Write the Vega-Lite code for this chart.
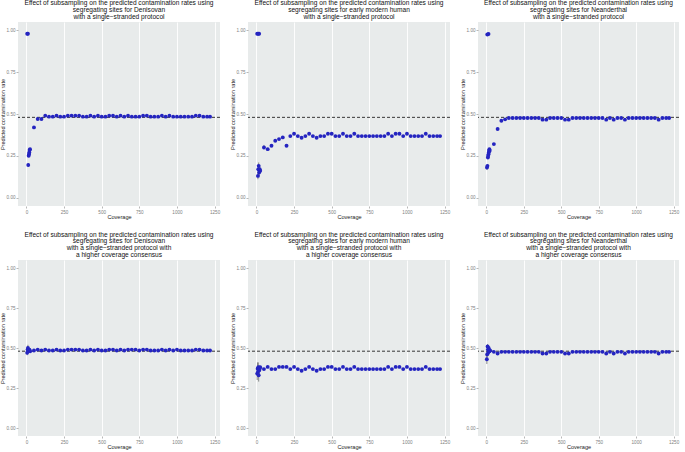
{
  "$schema": "https://vega.github.io/schema/vega-lite/v6.json",
  "padding": {"left": 0, "top": 0, "right": 1, "bottom": 1},
  "background": "white",
  "datasets": {
    "d": [
      {"p":1,"x":5,"y":0.98},{"p":1,"x":10,"y":0.98},{"p":1,"x":12,"y":0.195,"lo":0.185,"hi":0.205},{"p":1,"x":15,"y":0.25},{"p":1,"x":17,"y":0.26},{"p":1,"x":19,"y":0.27},{"p":1,"x":21,"y":0.285},{"p":1,"x":24,"y":0.29},{"p":1,"x":50,"y":0.42},{"p":1,"x":75,"y":0.47},{"p":1,"x":100,"y":0.47},
      {"p":1,"x":125,"y":0.49},{"p":1,"x":150,"y":0.484},{"p":1,"x":175,"y":0.484},{"p":1,"x":200,"y":0.49},{"p":1,"x":225,"y":0.484},{"p":1,"x":250,"y":0.484},{"p":1,"x":275,"y":0.49},{"p":1,"x":300,"y":0.49},{"p":1,"x":325,"y":0.49},{"p":1,"x":350,"y":0.49},{"p":1,"x":375,"y":0.484},{"p":1,"x":400,"y":0.484},{"p":1,"x":425,"y":0.49},{"p":1,"x":450,"y":0.484},{"p":1,"x":475,"y":0.49},{"p":1,"x":500,"y":0.484},{"p":1,"x":525,"y":0.484},{"p":1,"x":550,"y":0.49},{"p":1,"x":575,"y":0.49},{"p":1,"x":600,"y":0.484},{"p":1,"x":625,"y":0.49},{"p":1,"x":650,"y":0.484},{"p":1,"x":675,"y":0.49},{"p":1,"x":700,"y":0.484},{"p":1,"x":725,"y":0.484},{"p":1,"x":750,"y":0.484},{"p":1,"x":775,"y":0.49},{"p":1,"x":800,"y":0.49},{"p":1,"x":825,"y":0.484},{"p":1,"x":850,"y":0.484},{"p":1,"x":875,"y":0.484},{"p":1,"x":900,"y":0.49},{"p":1,"x":925,"y":0.484},{"p":1,"x":950,"y":0.49},{"p":1,"x":975,"y":0.484},{"p":1,"x":1000,"y":0.484},{"p":1,"x":1025,"y":0.484},{"p":1,"x":1050,"y":0.484},{"p":1,"x":1075,"y":0.484},{"p":1,"x":1100,"y":0.484},{"p":1,"x":1125,"y":0.49},{"p":1,"x":1150,"y":0.49},{"p":1,"x":1175,"y":0.484},{"p":1,"x":1200,"y":0.484},{"p":1,"x":1220,"y":0.484},

      {"p":2,"x":5,"y":0.98},{"p":2,"x":12,"y":0.98},{"p":2,"x":18,"y":0.98},{"p":2,"x":10,"y":0.13,"lo":0.11,"hi":0.15},{"p":2,"x":12,"y":0.17,"lo":0.15,"hi":0.19},{"p":2,"x":15,"y":0.19,"lo":0.17,"hi":0.21},{"p":2,"x":18,"y":0.15,"lo":0.13,"hi":0.17},{"p":2,"x":22,"y":0.17,"lo":0.15,"hi":0.19},{"p":2,"x":25,"y":0.16},{"p":2,"x":50,"y":0.30,"lo":0.29,"hi":0.315},{"p":2,"x":75,"y":0.29},{"p":2,"x":100,"y":0.31},
      {"p":2,"x":125,"y":0.34},{"p":2,"x":150,"y":0.35},{"p":2,"x":175,"y":0.36},{"p":2,"x":200,"y":0.31},{"p":2,"x":225,"y":0.368},{"p":2,"x":250,"y":0.382},{"p":2,"x":275,"y":0.368},{"p":2,"x":300,"y":0.358},{"p":2,"x":325,"y":0.368},{"p":2,"x":350,"y":0.382},{"p":2,"x":375,"y":0.368},{"p":2,"x":400,"y":0.358},{"p":2,"x":425,"y":0.368},{"p":2,"x":450,"y":0.368},{"p":2,"x":475,"y":0.382},{"p":2,"x":500,"y":0.382},{"p":2,"x":525,"y":0.368},{"p":2,"x":550,"y":0.368},{"p":2,"x":575,"y":0.382},{"p":2,"x":600,"y":0.368},{"p":2,"x":625,"y":0.368},{"p":2,"x":650,"y":0.382},{"p":2,"x":675,"y":0.368},{"p":2,"x":700,"y":0.368},{"p":2,"x":725,"y":0.368},{"p":2,"x":750,"y":0.368},{"p":2,"x":775,"y":0.368},{"p":2,"x":800,"y":0.368},{"p":2,"x":825,"y":0.368},{"p":2,"x":850,"y":0.368},{"p":2,"x":875,"y":0.382},{"p":2,"x":900,"y":0.368},{"p":2,"x":925,"y":0.382},{"p":2,"x":950,"y":0.382},{"p":2,"x":975,"y":0.368},{"p":2,"x":1000,"y":0.382},{"p":2,"x":1025,"y":0.368},{"p":2,"x":1050,"y":0.368},{"p":2,"x":1075,"y":0.368},{"p":2,"x":1100,"y":0.368},{"p":2,"x":1125,"y":0.382},{"p":2,"x":1150,"y":0.368},{"p":2,"x":1175,"y":0.368},{"p":2,"x":1200,"y":0.368},{"p":2,"x":1220,"y":0.368},

      {"p":3,"x":6,"y":0.975},{"p":3,"x":14,"y":0.978},{"p":3,"x":4,"y":0.18,"lo":0.165,"hi":0.195},{"p":3,"x":7,"y":0.19,"lo":0.18,"hi":0.2},{"p":3,"x":10,"y":0.24},{"p":3,"x":12,"y":0.25},{"p":3,"x":14,"y":0.26},{"p":3,"x":16,"y":0.27},{"p":3,"x":18,"y":0.28},{"p":3,"x":20,"y":0.29},{"p":3,"x":22,"y":0.28},{"p":3,"x":50,"y":0.32},{"p":3,"x":75,"y":0.41},{"p":3,"x":100,"y":0.46},{"p":3,"x":125,"y":0.468},
      {"p":3,"x":150,"y":0.476},{"p":3,"x":175,"y":0.476},{"p":3,"x":200,"y":0.476},{"p":3,"x":225,"y":0.476},{"p":3,"x":250,"y":0.476},{"p":3,"x":275,"y":0.476},{"p":3,"x":300,"y":0.476},{"p":3,"x":325,"y":0.476},{"p":3,"x":350,"y":0.476},{"p":3,"x":375,"y":0.466},{"p":3,"x":400,"y":0.466},{"p":3,"x":425,"y":0.476},{"p":3,"x":450,"y":0.476},{"p":3,"x":475,"y":0.476},{"p":3,"x":500,"y":0.476},{"p":3,"x":525,"y":0.466},{"p":3,"x":550,"y":0.466},{"p":3,"x":575,"y":0.476},{"p":3,"x":600,"y":0.476},{"p":3,"x":625,"y":0.476},{"p":3,"x":650,"y":0.476},{"p":3,"x":675,"y":0.476},{"p":3,"x":700,"y":0.476},{"p":3,"x":725,"y":0.476},{"p":3,"x":750,"y":0.476},{"p":3,"x":775,"y":0.476},{"p":3,"x":800,"y":0.466},{"p":3,"x":825,"y":0.476},{"p":3,"x":850,"y":0.466},{"p":3,"x":875,"y":0.476},{"p":3,"x":900,"y":0.476},{"p":3,"x":925,"y":0.466},{"p":3,"x":950,"y":0.476},{"p":3,"x":975,"y":0.476},{"p":3,"x":1000,"y":0.476},{"p":3,"x":1025,"y":0.476},{"p":3,"x":1050,"y":0.476},{"p":3,"x":1075,"y":0.476},{"p":3,"x":1100,"y":0.476},{"p":3,"x":1125,"y":0.476},{"p":3,"x":1150,"y":0.466},{"p":3,"x":1175,"y":0.476},{"p":3,"x":1200,"y":0.476},{"p":3,"x":1220,"y":0.476},

      {"p":4,"x":5,"y":0.47,"lo":0.455,"hi":0.49},{"p":4,"x":8,"y":0.49,"lo":0.47,"hi":0.51},{"p":4,"x":10,"y":0.5,"lo":0.485,"hi":0.52},{"p":4,"x":13,"y":0.49},{"p":4,"x":16,"y":0.485},{"p":4,"x":20,"y":0.49},{"p":4,"x":25,"y":0.48},{"p":4,"x":50,"y":0.484},{"p":4,"x":75,"y":0.49},{"p":4,"x":100,"y":0.484},
      {"p":4,"x":125,"y":0.49},{"p":4,"x":150,"y":0.484},{"p":4,"x":175,"y":0.484},{"p":4,"x":200,"y":0.49},{"p":4,"x":225,"y":0.484},{"p":4,"x":250,"y":0.484},{"p":4,"x":275,"y":0.49},{"p":4,"x":300,"y":0.49},{"p":4,"x":325,"y":0.49},{"p":4,"x":350,"y":0.49},{"p":4,"x":375,"y":0.484},{"p":4,"x":400,"y":0.484},{"p":4,"x":425,"y":0.49},{"p":4,"x":450,"y":0.484},{"p":4,"x":475,"y":0.49},{"p":4,"x":500,"y":0.484},{"p":4,"x":525,"y":0.484},{"p":4,"x":550,"y":0.49},{"p":4,"x":575,"y":0.49},{"p":4,"x":600,"y":0.484},{"p":4,"x":625,"y":0.49},{"p":4,"x":650,"y":0.484},{"p":4,"x":675,"y":0.49},{"p":4,"x":700,"y":0.49},{"p":4,"x":725,"y":0.49},{"p":4,"x":750,"y":0.484},{"p":4,"x":775,"y":0.49},{"p":4,"x":800,"y":0.49},{"p":4,"x":825,"y":0.484},{"p":4,"x":850,"y":0.484},{"p":4,"x":875,"y":0.484},{"p":4,"x":900,"y":0.49},{"p":4,"x":925,"y":0.484},{"p":4,"x":950,"y":0.49},{"p":4,"x":975,"y":0.484},{"p":4,"x":1000,"y":0.49},{"p":4,"x":1025,"y":0.484},{"p":4,"x":1050,"y":0.484},{"p":4,"x":1075,"y":0.484},{"p":4,"x":1100,"y":0.484},{"p":4,"x":1125,"y":0.49},{"p":4,"x":1150,"y":0.49},{"p":4,"x":1175,"y":0.484},{"p":4,"x":1200,"y":0.484},{"p":4,"x":1220,"y":0.484},

      {"p":5,"x":5,"y":0.34,"lo":0.3,"hi":0.38},{"p":5,"x":8,"y":0.37,"lo":0.33,"hi":0.41},{"p":5,"x":10,"y":0.35,"lo":0.32,"hi":0.38},{"p":5,"x":12,"y":0.38,"lo":0.35,"hi":0.41},{"p":5,"x":15,"y":0.33,"lo":0.29,"hi":0.36},{"p":5,"x":18,"y":0.36,"lo":0.33,"hi":0.39},{"p":5,"x":22,"y":0.37,"lo":0.35,"hi":0.39},{"p":5,"x":25,"y":0.38},{"p":5,"x":50,"y":0.368},{"p":5,"x":75,"y":0.382},{"p":5,"x":100,"y":0.368},
      {"p":5,"x":125,"y":0.368},{"p":5,"x":150,"y":0.382},{"p":5,"x":175,"y":0.382},{"p":5,"x":200,"y":0.382},{"p":5,"x":225,"y":0.368},{"p":5,"x":250,"y":0.382},{"p":5,"x":275,"y":0.368},{"p":5,"x":300,"y":0.358},{"p":5,"x":325,"y":0.368},{"p":5,"x":350,"y":0.382},{"p":5,"x":375,"y":0.368},{"p":5,"x":400,"y":0.358},{"p":5,"x":425,"y":0.368},{"p":5,"x":450,"y":0.368},{"p":5,"x":475,"y":0.382},{"p":5,"x":500,"y":0.382},{"p":5,"x":525,"y":0.368},{"p":5,"x":550,"y":0.368},{"p":5,"x":575,"y":0.382},{"p":5,"x":600,"y":0.368},{"p":5,"x":625,"y":0.368},{"p":5,"x":650,"y":0.382},{"p":5,"x":675,"y":0.368},{"p":5,"x":700,"y":0.368},{"p":5,"x":725,"y":0.368},{"p":5,"x":750,"y":0.368},{"p":5,"x":775,"y":0.368},{"p":5,"x":800,"y":0.368},{"p":5,"x":825,"y":0.368},{"p":5,"x":850,"y":0.368},{"p":5,"x":875,"y":0.382},{"p":5,"x":900,"y":0.368},{"p":5,"x":925,"y":0.382},{"p":5,"x":950,"y":0.382},{"p":5,"x":975,"y":0.368},{"p":5,"x":1000,"y":0.382},{"p":5,"x":1025,"y":0.368},{"p":5,"x":1050,"y":0.368},{"p":5,"x":1075,"y":0.368},{"p":5,"x":1100,"y":0.368},{"p":5,"x":1125,"y":0.382},{"p":5,"x":1150,"y":0.368},{"p":5,"x":1175,"y":0.368},{"p":5,"x":1200,"y":0.368},{"p":5,"x":1220,"y":0.368},

      {"p":6,"x":3,"y":0.43,"lo":0.40,"hi":0.45},{"p":6,"x":5,"y":0.46,"lo":0.44,"hi":0.48},{"p":6,"x":8,"y":0.51,"lo":0.5,"hi":0.525},{"p":6,"x":10,"y":0.49},{"p":6,"x":12,"y":0.47},{"p":6,"x":15,"y":0.5},{"p":6,"x":18,"y":0.49},{"p":6,"x":21,"y":0.48},{"p":6,"x":25,"y":0.485},{"p":6,"x":50,"y":0.476},{"p":6,"x":75,"y":0.466},{"p":6,"x":100,"y":0.476},{"p":6,"x":125,"y":0.476},
      {"p":6,"x":150,"y":0.476},{"p":6,"x":175,"y":0.476},{"p":6,"x":200,"y":0.476},{"p":6,"x":225,"y":0.476},{"p":6,"x":250,"y":0.476},{"p":6,"x":275,"y":0.476},{"p":6,"x":300,"y":0.476},{"p":6,"x":325,"y":0.476},{"p":6,"x":350,"y":0.476},{"p":6,"x":375,"y":0.466},{"p":6,"x":400,"y":0.466},{"p":6,"x":425,"y":0.476},{"p":6,"x":450,"y":0.476},{"p":6,"x":475,"y":0.476},{"p":6,"x":500,"y":0.476},{"p":6,"x":525,"y":0.466},{"p":6,"x":550,"y":0.466},{"p":6,"x":575,"y":0.476},{"p":6,"x":600,"y":0.476},{"p":6,"x":625,"y":0.476},{"p":6,"x":650,"y":0.476},{"p":6,"x":675,"y":0.476},{"p":6,"x":700,"y":0.476},{"p":6,"x":725,"y":0.476},{"p":6,"x":750,"y":0.476},{"p":6,"x":775,"y":0.476},{"p":6,"x":800,"y":0.466},{"p":6,"x":825,"y":0.476},{"p":6,"x":850,"y":0.466},{"p":6,"x":875,"y":0.476},{"p":6,"x":900,"y":0.476},{"p":6,"x":925,"y":0.466},{"p":6,"x":950,"y":0.476},{"p":6,"x":975,"y":0.476},{"p":6,"x":1000,"y":0.476},{"p":6,"x":1025,"y":0.476},{"p":6,"x":1050,"y":0.476},{"p":6,"x":1075,"y":0.476},{"p":6,"x":1100,"y":0.476},{"p":6,"x":1125,"y":0.476},{"p":6,"x":1150,"y":0.466},{"p":6,"x":1175,"y":0.476},{"p":6,"x":1200,"y":0.476},{"p":6,"x":1220,"y":0.476}
    ]
  },
  "vconcat": [
    {
      "hconcat": [
        {
          "width": 202, "height": 184,
          "title": {"text": ["Effect of subsampling on the predicted contamination rates using", "segregating sites for Denisovan", "with a  single\u2212stranded  protocol"]},
          "layer": [
            {"data": {"values": [{}]}, "mark": {"type": "rule", "strokeDash": [3, 2], "color": "#222", "strokeWidth": 0.9}, "encoding": {"y": {"datum": 0.48, "type": "quantitative"}}},
            {"data": {"name": "d"}, "transform": [{"filter": "datum.p === 1 && isValid(datum.lo)"}], "mark": {"type": "rule", "color": "#444", "strokeWidth": 0.6}, "encoding": {"x": {"field": "x", "type": "quantitative"}, "y": {"field": "lo", "type": "quantitative", "title": "Predicted contamination rate"}, "y2": {"field": "hi"}}},
            {"data": {"name": "d"}, "transform": [{"filter": "datum.p === 1"}], "mark": {"type": "point", "filled": true, "size": 15, "color": "#2424c0", "opacity": 1},
             "encoding": {
               "x": {"field": "x", "type": "quantitative", "scale": {"domain": [-56, 1286], "nice": false, "zero": false},
                     "axis": {"title": "Coverage", "format": "d", "labelOverlap": false, "values": [0, 125, 250, 375, 500, 625, 750, 875, 1000, 1125, 1250], "labelExpr": "datum.value % 250 === 0 ? datum.label : ''", "gridWidth": {"condition": {"test": "datum.value % 250 !== 0", "value": 0.45}, "value": 0.9}, "tickOpacity": {"condition": {"test": "datum.value % 250 !== 0", "value": 0}, "value": 1}}},
               "y": {"field": "y", "type": "quantitative", "scale": {"domain": [-0.05, 1.05], "nice": false, "zero": false},
                     "axis": {"title": "Predicted contamination rate", "labelOverlap": false, "values": [0, 0.125, 0.25, 0.375, 0.5, 0.625, 0.75, 0.875, 1], "format": ".2f", "labelExpr": "abs(datum.value*4 - round(datum.value*4)) < 0.001 ? datum.label : ''", "gridWidth": {"condition": {"test": "abs(datum.value*4 - round(datum.value*4)) > 0.001", "value": 0.45}, "value": 0.9}, "tickOpacity": {"condition": {"test": "abs(datum.value*4 - round(datum.value*4)) > 0.001", "value": 0}, "value": 1}}}
             }}
          ]
        },
        {
          "width": 202, "height": 184,
          "title": {"text": ["Effect of subsampling on the predicted contamination rates using", "segregating sites for early modern human", "with a  single\u2212stranded  protocol"]},
          "layer": [
            {"data": {"values": [{}]}, "mark": {"type": "rule", "strokeDash": [3, 2], "color": "#222", "strokeWidth": 0.9}, "encoding": {"y": {"datum": 0.48, "type": "quantitative"}}},
            {"data": {"name": "d"}, "transform": [{"filter": "datum.p === 2 && isValid(datum.lo)"}], "mark": {"type": "rule", "color": "#444", "strokeWidth": 0.6}, "encoding": {"x": {"field": "x", "type": "quantitative"}, "y": {"field": "lo", "type": "quantitative", "title": "Predicted contamination rate"}, "y2": {"field": "hi"}}},
            {"data": {"name": "d"}, "transform": [{"filter": "datum.p === 2"}], "mark": {"type": "point", "filled": true, "size": 15, "color": "#2424c0", "opacity": 1},
             "encoding": {
               "x": {"field": "x", "type": "quantitative", "scale": {"domain": [-56, 1286], "nice": false, "zero": false},
                     "axis": {"title": "Coverage", "format": "d", "labelOverlap": false, "values": [0, 125, 250, 375, 500, 625, 750, 875, 1000, 1125, 1250], "labelExpr": "datum.value % 250 === 0 ? datum.label : ''", "gridWidth": {"condition": {"test": "datum.value % 250 !== 0", "value": 0.45}, "value": 0.9}, "tickOpacity": {"condition": {"test": "datum.value % 250 !== 0", "value": 0}, "value": 1}}},
               "y": {"field": "y", "type": "quantitative", "scale": {"domain": [-0.05, 1.05], "nice": false, "zero": false},
                     "axis": {"title": "Predicted contamination rate", "labelOverlap": false, "values": [0, 0.125, 0.25, 0.375, 0.5, 0.625, 0.75, 0.875, 1], "format": ".2f", "labelExpr": "abs(datum.value*4 - round(datum.value*4)) < 0.001 ? datum.label : ''", "gridWidth": {"condition": {"test": "abs(datum.value*4 - round(datum.value*4)) > 0.001", "value": 0.45}, "value": 0.9}, "tickOpacity": {"condition": {"test": "abs(datum.value*4 - round(datum.value*4)) > 0.001", "value": 0}, "value": 1}}}
             }}
          ]
        },
        {
          "width": 201, "height": 184,
          "title": {"text": ["Effect of subsampling on the predicted contamination rates using", "segregating sites for Neanderthal", "with a  single\u2212stranded  protocol"]},
          "layer": [
            {"data": {"values": [{}]}, "mark": {"type": "rule", "strokeDash": [3, 2], "color": "#222", "strokeWidth": 0.9}, "encoding": {"y": {"datum": 0.48, "type": "quantitative"}}},
            {"data": {"name": "d"}, "transform": [{"filter": "datum.p === 3 && isValid(datum.lo)"}], "mark": {"type": "rule", "color": "#444", "strokeWidth": 0.6}, "encoding": {"x": {"field": "x", "type": "quantitative"}, "y": {"field": "lo", "type": "quantitative", "title": "Predicted contamination rate"}, "y2": {"field": "hi"}}},
            {"data": {"name": "d"}, "transform": [{"filter": "datum.p === 3"}], "mark": {"type": "point", "filled": true, "size": 15, "color": "#2424c0", "opacity": 1},
             "encoding": {
               "x": {"field": "x", "type": "quantitative", "scale": {"domain": [-56, 1286], "nice": false, "zero": false},
                     "axis": {"title": "Coverage", "format": "d", "labelOverlap": false, "values": [0, 125, 250, 375, 500, 625, 750, 875, 1000, 1125, 1250], "labelExpr": "datum.value % 250 === 0 ? datum.label : ''", "gridWidth": {"condition": {"test": "datum.value % 250 !== 0", "value": 0.45}, "value": 0.9}, "tickOpacity": {"condition": {"test": "datum.value % 250 !== 0", "value": 0}, "value": 1}}},
               "y": {"field": "y", "type": "quantitative", "scale": {"domain": [-0.05, 1.05], "nice": false, "zero": false},
                     "axis": {"title": "Predicted contamination rate", "labelOverlap": false, "values": [0, 0.125, 0.25, 0.375, 0.5, 0.625, 0.75, 0.875, 1], "format": ".2f", "labelExpr": "abs(datum.value*4 - round(datum.value*4)) < 0.001 ? datum.label : ''", "gridWidth": {"condition": {"test": "abs(datum.value*4 - round(datum.value*4)) > 0.001", "value": 0.45}, "value": 0.9}, "tickOpacity": {"condition": {"test": "abs(datum.value*4 - round(datum.value*4)) > 0.001", "value": 0}, "value": 1}}}
             }}
          ]
        }
      ],
      "spacing": 9
    },
    {
      "hconcat": [
        {
          "width": 202, "height": 176,
          "title": {"text": ["Effect of subsampling on the predicted contamination rates using", "segregating sites for  Denisovan", "with a  single\u2212stranded  protocol with", "a higher coverage consensus"]},
          "layer": [
            {"data": {"values": [{}]}, "mark": {"type": "rule", "strokeDash": [3, 2], "color": "#222", "strokeWidth": 0.9}, "encoding": {"y": {"datum": 0.48, "type": "quantitative"}}},
            {"data": {"name": "d"}, "transform": [{"filter": "datum.p === 4 && isValid(datum.lo)"}], "mark": {"type": "rule", "color": "#444", "strokeWidth": 0.6}, "encoding": {"x": {"field": "x", "type": "quantitative"}, "y": {"field": "lo", "type": "quantitative", "title": "Predicted contamination rate"}, "y2": {"field": "hi"}}},
            {"data": {"name": "d"}, "transform": [{"filter": "datum.p === 4"}], "mark": {"type": "point", "filled": true, "size": 15, "color": "#2424c0", "opacity": 1},
             "encoding": {
               "x": {"field": "x", "type": "quantitative", "scale": {"domain": [-56, 1286], "nice": false, "zero": false},
                     "axis": {"title": "Coverage", "format": "d", "labelOverlap": false, "values": [0, 125, 250, 375, 500, 625, 750, 875, 1000, 1125, 1250], "labelExpr": "datum.value % 250 === 0 ? datum.label : ''", "gridWidth": {"condition": {"test": "datum.value % 250 !== 0", "value": 0.45}, "value": 0.9}, "tickOpacity": {"condition": {"test": "datum.value % 250 !== 0", "value": 0}, "value": 1}}},
               "y": {"field": "y", "type": "quantitative", "scale": {"domain": [-0.05, 1.05], "nice": false, "zero": false},
                     "axis": {"title": "Predicted contamination rate", "labelOverlap": false, "values": [0, 0.125, 0.25, 0.375, 0.5, 0.625, 0.75, 0.875, 1], "format": ".2f", "labelExpr": "abs(datum.value*4 - round(datum.value*4)) < 0.001 ? datum.label : ''", "gridWidth": {"condition": {"test": "abs(datum.value*4 - round(datum.value*4)) > 0.001", "value": 0.45}, "value": 0.9}, "tickOpacity": {"condition": {"test": "abs(datum.value*4 - round(datum.value*4)) > 0.001", "value": 0}, "value": 1}}}
             }}
          ]
        },
        {
          "width": 202, "height": 176,
          "title": {"text": ["Effect of subsampling on the predicted contamination rates using", "segregating sites for  early modern human", "with a  single\u2212stranded  protocol with", "a higher coverage consensus"]},
          "layer": [
            {"data": {"values": [{}]}, "mark": {"type": "rule", "strokeDash": [3, 2], "color": "#222", "strokeWidth": 0.9}, "encoding": {"y": {"datum": 0.48, "type": "quantitative"}}},
            {"data": {"name": "d"}, "transform": [{"filter": "datum.p === 5 && isValid(datum.lo)"}], "mark": {"type": "rule", "color": "#444", "strokeWidth": 0.6}, "encoding": {"x": {"field": "x", "type": "quantitative"}, "y": {"field": "lo", "type": "quantitative", "title": "Predicted contamination rate"}, "y2": {"field": "hi"}}},
            {"data": {"name": "d"}, "transform": [{"filter": "datum.p === 5"}], "mark": {"type": "point", "filled": true, "size": 15, "color": "#2424c0", "opacity": 1},
             "encoding": {
               "x": {"field": "x", "type": "quantitative", "scale": {"domain": [-56, 1286], "nice": false, "zero": false},
                     "axis": {"title": "Coverage", "format": "d", "labelOverlap": false, "values": [0, 125, 250, 375, 500, 625, 750, 875, 1000, 1125, 1250], "labelExpr": "datum.value % 250 === 0 ? datum.label : ''", "gridWidth": {"condition": {"test": "datum.value % 250 !== 0", "value": 0.45}, "value": 0.9}, "tickOpacity": {"condition": {"test": "datum.value % 250 !== 0", "value": 0}, "value": 1}}},
               "y": {"field": "y", "type": "quantitative", "scale": {"domain": [-0.05, 1.05], "nice": false, "zero": false},
                     "axis": {"title": "Predicted contamination rate", "labelOverlap": false, "values": [0, 0.125, 0.25, 0.375, 0.5, 0.625, 0.75, 0.875, 1], "format": ".2f", "labelExpr": "abs(datum.value*4 - round(datum.value*4)) < 0.001 ? datum.label : ''", "gridWidth": {"condition": {"test": "abs(datum.value*4 - round(datum.value*4)) > 0.001", "value": 0.45}, "value": 0.9}, "tickOpacity": {"condition": {"test": "abs(datum.value*4 - round(datum.value*4)) > 0.001", "value": 0}, "value": 1}}}
             }}
          ]
        },
        {
          "width": 201, "height": 176,
          "title": {"text": ["Effect of subsampling on the predicted contamination rates using", "segregating sites for  Neanderthal", "with a  single\u2212stranded  protocol with", "a higher coverage consensus"]},
          "layer": [
            {"data": {"values": [{}]}, "mark": {"type": "rule", "strokeDash": [3, 2], "color": "#222", "strokeWidth": 0.9}, "encoding": {"y": {"datum": 0.48, "type": "quantitative"}}},
            {"data": {"name": "d"}, "transform": [{"filter": "datum.p === 6 && isValid(datum.lo)"}], "mark": {"type": "rule", "color": "#444", "strokeWidth": 0.6}, "encoding": {"x": {"field": "x", "type": "quantitative"}, "y": {"field": "lo", "type": "quantitative", "title": "Predicted contamination rate"}, "y2": {"field": "hi"}}},
            {"data": {"name": "d"}, "transform": [{"filter": "datum.p === 6"}], "mark": {"type": "point", "filled": true, "size": 15, "color": "#2424c0", "opacity": 1},
             "encoding": {
               "x": {"field": "x", "type": "quantitative", "scale": {"domain": [-56, 1286], "nice": false, "zero": false},
                     "axis": {"title": "Coverage", "format": "d", "labelOverlap": false, "values": [0, 125, 250, 375, 500, 625, 750, 875, 1000, 1125, 1250], "labelExpr": "datum.value % 250 === 0 ? datum.label : ''", "gridWidth": {"condition": {"test": "datum.value % 250 !== 0", "value": 0.45}, "value": 0.9}, "tickOpacity": {"condition": {"test": "datum.value % 250 !== 0", "value": 0}, "value": 1}}},
               "y": {"field": "y", "type": "quantitative", "scale": {"domain": [-0.05, 1.05], "nice": false, "zero": false},
                     "axis": {"title": "Predicted contamination rate", "labelOverlap": false, "values": [0, 0.125, 0.25, 0.375, 0.5, 0.625, 0.75, 0.875, 1], "format": ".2f", "labelExpr": "abs(datum.value*4 - round(datum.value*4)) < 0.001 ? datum.label : ''", "gridWidth": {"condition": {"test": "abs(datum.value*4 - round(datum.value*4)) > 0.001", "value": 0.45}, "value": 0.9}, "tickOpacity": {"condition": {"test": "abs(datum.value*4 - round(datum.value*4)) > 0.001", "value": 0}, "value": 1}}}
             }}
          ]
        }
      ],
      "spacing": 9
    }
  ],
  "spacing": 10,
  "config": {
    "font": "Liberation Sans",
    "view": {"fill": "#e8ebeb", "stroke": null},
    "axis": {"domain": false, "gridColor": "white", "tickColor": "#888", "tickSize": 2, "tickWidth": 0.6, "labelFontSize": 4.6, "labelColor": "#808080", "labelPadding": 1, "labelOverlap": false, "labelFlush": false, "titleFontSize": 5.6, "titleFontWeight": "normal", "titleColor": "#222", "titlePadding": 1},
    "title": {"fontSize": 6.6, "fontWeight": "normal", "lineHeight": 6.8, "offset": 1.5, "color": "#111", "anchor": "middle"}
  }
}
